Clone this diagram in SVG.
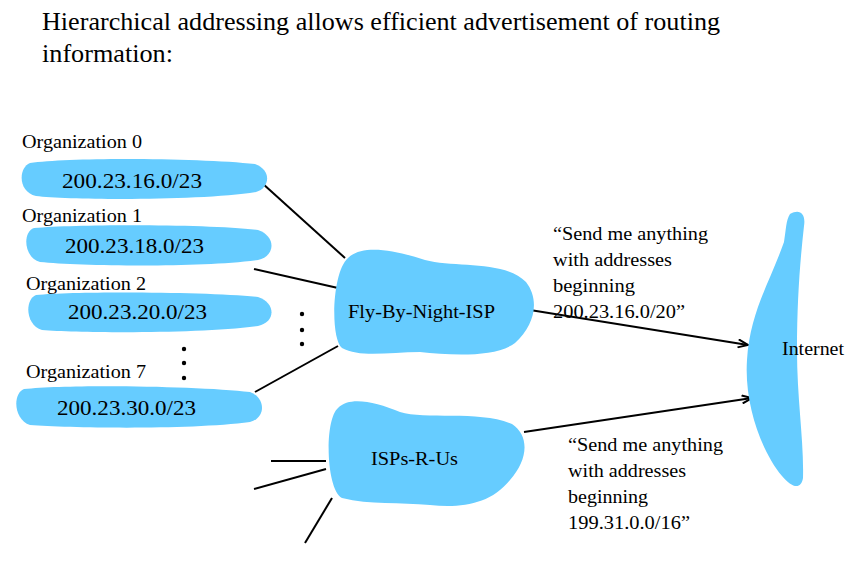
<svg xmlns="http://www.w3.org/2000/svg" width="853" height="564" viewBox="0 0 853 564">
<defs>
<style>
text{font-family:'Liberation Serif','Times New Roman',serif;fill:#000}
.title{font-size:25px}
.org{font-size:18px}
.addr{font-size:21px}
.lbl{font-size:19px}
.blob{fill:#66CCFF;stroke:none}
.ln{stroke:#000;stroke-width:2;fill:none}
</style>
<marker id="arr" viewBox="0 0 12 10" refX="11" refY="5" markerWidth="12" markerHeight="10" markerUnits="userSpaceOnUse" orient="auto">
<polyline points="1,1 11,5 1,9" fill="none" stroke="#000" stroke-width="2"/>
</marker>
</defs>
<rect width="853" height="564" fill="#fff"/>
<g id="title">
<text class="title" x="42" y="30" textLength="678" lengthAdjust="spacingAndGlyphs">Hierarchical addressing allows efficient advertisement of routing</text>
<text class="title" x="42" y="62" textLength="131" lengthAdjust="spacingAndGlyphs">information:</text>
</g>
<g id="connectors">
<line class="ln" x1="262" y1="183" x2="345" y2="258"/>
<line class="ln" x1="254" y1="269" x2="338" y2="288"/>
<line class="ln" x1="255" y1="392" x2="338" y2="346"/>
<line class="ln" x1="530" y1="310" x2="748" y2="345" marker-end="url(#arr)"/>
<line class="ln" x1="524" y1="432" x2="752" y2="398" marker-end="url(#arr)"/>
<line class="ln" x1="271" y1="461" x2="326" y2="461"/>
<line class="ln" x1="254" y1="489" x2="326" y2="469"/>
<line class="ln" x1="332" y1="498" x2="305" y2="543"/>
</g>
<g id="org0">
<text class="org" x="22" y="148" textLength="120" lengthAdjust="spacingAndGlyphs">Organization 0</text>
<path class="blob" d="M30,163 C70,157 200,158 255,164 C272,170 270,188 256,192 C200,201 70,200 36,196 C18,192 18,168 30,163 Z"/>
<text class="addr" x="62" y="188" textLength="140" lengthAdjust="spacingAndGlyphs">200.23.16.0/23</text>
</g>
<g id="org1">
<text class="org" x="22" y="222" textLength="120" lengthAdjust="spacingAndGlyphs">Organization 1</text>
<path class="blob" d="M34,228 C80,224 210,224 258,230 C276,236 276,256 258,260 C200,268 80,266 40,262 C24,258 22,232 34,228 Z"/>
<text class="addr" x="65" y="253" textLength="139" lengthAdjust="spacingAndGlyphs">200.23.18.0/23</text>
</g>
<g id="org2">
<text class="org" x="26" y="290" textLength="120" lengthAdjust="spacingAndGlyphs">Organization 2</text>
<path class="blob" d="M36,295 C80,291 210,292 258,297 C276,303 276,322 258,326 C200,334 80,333 42,330 C26,326 24,300 36,295 Z"/>
<text class="addr" x="68" y="319" textLength="139" lengthAdjust="spacingAndGlyphs">200.23.20.0/23</text>
</g>
<g id="dots1">
<circle cx="184" cy="349" r="2.2" fill="#000"/>
<circle cx="184" cy="363" r="2.2" fill="#000"/>
<circle cx="184" cy="378" r="2.2" fill="#000"/>
</g>
<g id="org7">
<text class="org" x="26" y="378" textLength="120" lengthAdjust="spacingAndGlyphs">Organization 7</text>
<path class="blob" d="M24,389 C70,384 200,386 250,392 C266,398 266,418 250,422 C190,430 70,428 30,425 C14,420 12,394 24,389 Z"/>
<text class="addr" x="57" y="415" textLength="139" lengthAdjust="spacingAndGlyphs">200.23.30.0/23</text>
</g>
<g id="dots2">
<circle cx="302" cy="314" r="2.2" fill="#000"/>
<circle cx="302" cy="330" r="2.2" fill="#000"/>
<circle cx="302" cy="344" r="2.2" fill="#000"/>
</g>
<g id="fly">
<path class="blob" d="M348,258 C362,244 395,250 425,260 C455,268 505,260 526,282 C540,300 535,325 515,343 C495,358 450,355 420,352 C390,352 360,358 342,348 C330,338 332,272 348,258 Z"/>
<text class="lbl" x="348" y="318" textLength="147" lengthAdjust="spacingAndGlyphs">Fly-By-Night-ISP</text>
</g>
<g id="isps">
<path class="blob" d="M338,408 C350,396 375,402 400,412 C425,420 480,410 512,424 C530,436 528,460 510,480 C490,505 460,508 430,505 C400,502 370,505 342,498 C326,490 324,420 338,408 Z"/>
<text class="lbl" x="371" y="465" textLength="87" lengthAdjust="spacingAndGlyphs">ISPs-R-Us</text>
</g>
<g id="internet">
<path class="blob" d="M790,214 C800,208 806,214 804,226 C800,262 797,300 797,350 C797,400 804,440 803,478 C801,490 792,488 782,476 C762,452 744,405 747,360 C750,312 770,282 784,242 C786,230 786,220 790,214 Z"/>
<text class="lbl" x="782" y="355" textLength="62" lengthAdjust="spacingAndGlyphs">Internet</text>
</g>
<g id="msg1">
<text class="lbl" x="553" y="240" textLength="155" lengthAdjust="spacingAndGlyphs">“Send me anything</text>
<text class="lbl" x="553" y="266" textLength="119" lengthAdjust="spacingAndGlyphs">with addresses</text>
<text class="lbl" x="553" y="292" textLength="82" lengthAdjust="spacingAndGlyphs">beginning</text>
<text class="lbl" x="553" y="318" textLength="132" lengthAdjust="spacingAndGlyphs">200.23.16.0/20”</text>
</g>
<g id="msg2">
<text class="lbl" x="568" y="451" textLength="155" lengthAdjust="spacingAndGlyphs">“Send me anything</text>
<text class="lbl" x="568" y="477" textLength="118" lengthAdjust="spacingAndGlyphs">with addresses</text>
<text class="lbl" x="568" y="503" textLength="80" lengthAdjust="spacingAndGlyphs">beginning</text>
<text class="lbl" x="568" y="529" textLength="122" lengthAdjust="spacingAndGlyphs">199.31.0.0/16”</text>
</g>
</svg>
